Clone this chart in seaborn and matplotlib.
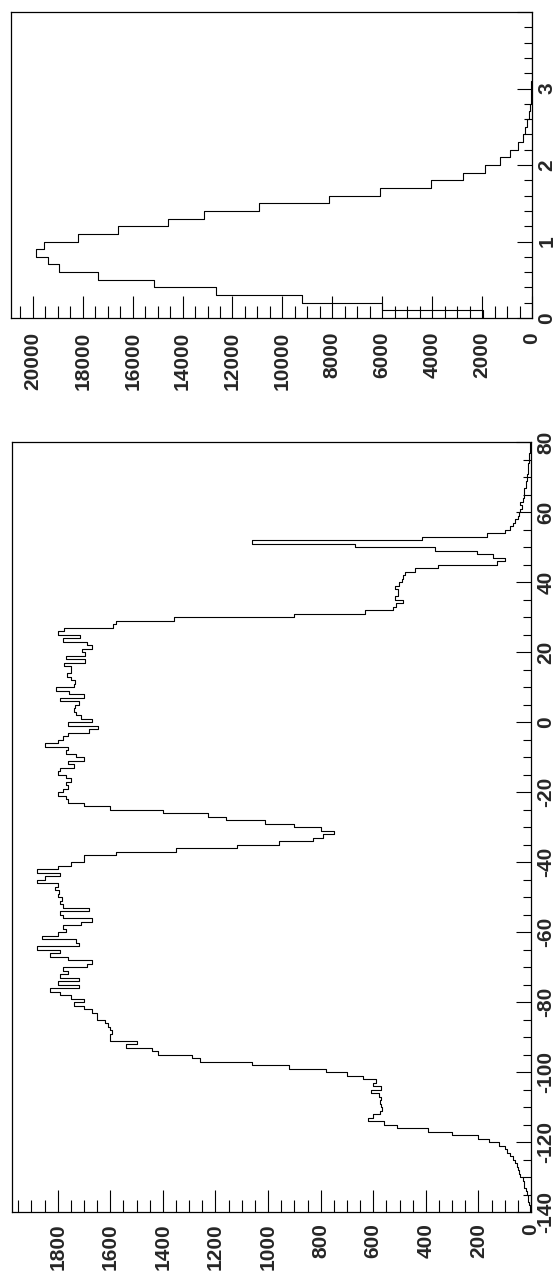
import numpy as np
import pandas as pd
import matplotlib
matplotlib.use("Agg")
import matplotlib.pyplot as plt
import seaborn as sns
from matplotlib.ticker import MultipleLocator, FuncFormatter

# ---------------- data ----------------
# top panel: 40 bins of width 0.1 from 0 to 4
top_edges_lo = [round(0.1 * i, 1) for i in range(40)]
top_counts = [1950, 6000, 9200, 12650, 15150, 17400, 18950, 19400, 19880, 19550,
              18200, 16600, 14600, 13150, 10950, 8150, 6080, 4050, 2770, 1870,
              1280, 880, 570, 370, 280, 190, 130, 80, 50, 40,
              30, 20, 15, 12, 10, 8, 5, 3, 0, 0]

# bottom panel: 220 bins of width 1 from -140 to 80
bot_edges_lo = list(range(-140, 80))
bot_counts = [3, 5, 8, 10, 12, 15, 20, 25, 28, 32,
              40, 45, 50, 55, 60, 70, 80, 90, 100, 120,
              160, 200, 300, 390, 510, 560, 620, 600, 575, 565,
              570, 575, 570, 580, 610, 570, 600, 590, 640, 700,
              780, 920, 1060, 1260, 1290, 1420, 1440, 1540, 1500, 1600,
              1600, 1595, 1600, 1610, 1620, 1650, 1650, 1670, 1700, 1740,
              1700, 1750, 1790, 1830, 1720, 1800, 1720, 1790, 1760, 1780,
              1690, 1670, 1760, 1830, 1790, 1880, 1720, 1730, 1860, 1800,
              1770, 1780, 1710, 1670, 1780, 1790, 1680, 1780, 1790, 1785,
              1800, 1795, 1810, 1800, 1880, 1850, 1790, 1880, 1800, 1750,
              1700, 1700, 1580, 1350, 1120, 960, 830, 790, 750, 800,
              900, 1010, 1160, 1230, 1400, 1600, 1700, 1760, 1770, 1800,
              1780, 1760, 1770, 1750, 1770, 1800, 1790, 1740, 1760, 1700,
              1730, 1770, 1760, 1850, 1800, 1780, 1760, 1680, 1647, 1760,
              1668, 1710, 1730, 1740, 1735, 1720, 1790, 1700, 1756, 1808,
              1738, 1735, 1750, 1763, 1750, 1750, 1778, 1698, 1770, 1695,
              1706, 1668, 1690, 1780, 1715, 1799, 1776, 1590, 1580, 1358,
              900, 633, 526, 513, 487, 519, 506, 506, 518, 501,
              492, 486, 479, 443, 352, 130, 99, 143, 206, 367,
              668, 1061, 415, 166, 99, 80, 70, 60, 50, 45,
              40, 35, 40, 30, 28, 25, 28, 20, 18, 15,
              15, 12, 10, 10, 8, 8, 6, 5, 5, 5]

top_range = (0, 4)
top_width = 0.1
bot_range = (-140, 80)
bot_width = 1

# ---------------- style ----------------
sns.set_style("white")
plt.rcParams["font.family"] = ["Liberation Sans", "DejaVu Sans"]
plt.rcParams["font.weight"] = "bold"
plt.rcParams["axes.unicode_minus"] = False

W, H = 559, 1279
fig = plt.figure(figsize=(W / 100, H / 100), dpi=100)
fig.patch.set_facecolor("white")

ax_top = fig.add_axes([11 / W, 1 - 318 / H, 521 / W, 306 / H])
ax_bot = fig.add_axes([12 / W, 1 - 1212 / H, 519 / W, 770 / H])


def draw(ax, lo, counts, width, rng, cmaj, cmin, bmaj, bmin, label_pad, skip_top):
    centers = np.asarray(lo, dtype=float) + width / 2
    df = pd.DataFrame({"center": centers, "count": np.asarray(counts, dtype=float)})
    sns.histplot(data=df, y="center", weights="count", bins=len(counts),
                 binrange=rng, element="step", fill=False, color="black",
                 linewidth=0.8, ax=ax)
    ax.set_xlim(max(counts) * 1.05, 0)
    ax.set_ylim(*rng)
    ax.set_xlabel("")
    ax.set_ylabel("")
    ax.xaxis.set_major_locator(MultipleLocator(cmaj))
    ax.xaxis.set_minor_locator(MultipleLocator(cmin))
    ax.yaxis.set_major_locator(MultipleLocator(bmaj))
    ax.yaxis.set_minor_locator(MultipleLocator(bmin))
    ax.xaxis.set_major_formatter(FuncFormatter(lambda v, p: "%d" % round(v)))
    if skip_top:
        ax.yaxis.set_major_formatter(FuncFormatter(
            lambda v, p: "" if v >= rng[1] - 1e-6 else "%g" % v))
    else:
        ax.yaxis.set_major_formatter(FuncFormatter(lambda v, p: "%g" % v))
    ax.tick_params(axis="x", which="major", direction="in", length=16, width=0.8,
                   bottom=True, top=False, labelbottom=True, labelrotation=90,
                   labelsize=15, pad=label_pad, color="black")
    ax.tick_params(axis="x", which="minor", direction="in", length=8.5, width=0.8,
                   bottom=True, top=False, color="black")
    ax.tick_params(axis="y", which="major", direction="in", length=11, width=0.8,
                   left=False, right=True, labelleft=False, labelright=True,
                   labelrotation=90, labelsize=15, pad=4, color="black")
    ax.tick_params(axis="y", which="minor", direction="in", length=6, width=0.8,
                   left=False, right=True, color="black")
    for lab in ax.get_xticklabels():
        lab.set_fontweight("bold")
        lab.set_va("top")
        lab.set_ha("center")
    for lab in ax.get_yticklabels():
        lab.set_fontweight("bold")
        lab.set_va("center")
        lab.set_ha("left")
    for sp in ax.spines.values():
        sp.set_visible(True)
        sp.set_color("black")
        sp.set_linewidth(0.9)
    ax.grid(False)
    ax.set_facecolor("white")


draw(ax_top, top_edges_lo, top_counts, top_width, top_range, 2000, 500, 1, 0.2, 10, True)
draw(ax_bot, bot_edges_lo, bot_counts, bot_width, bot_range, 200, 50, 20, 5, 8, False)

fig.savefig("out.png", dpi=100, facecolor="white")
